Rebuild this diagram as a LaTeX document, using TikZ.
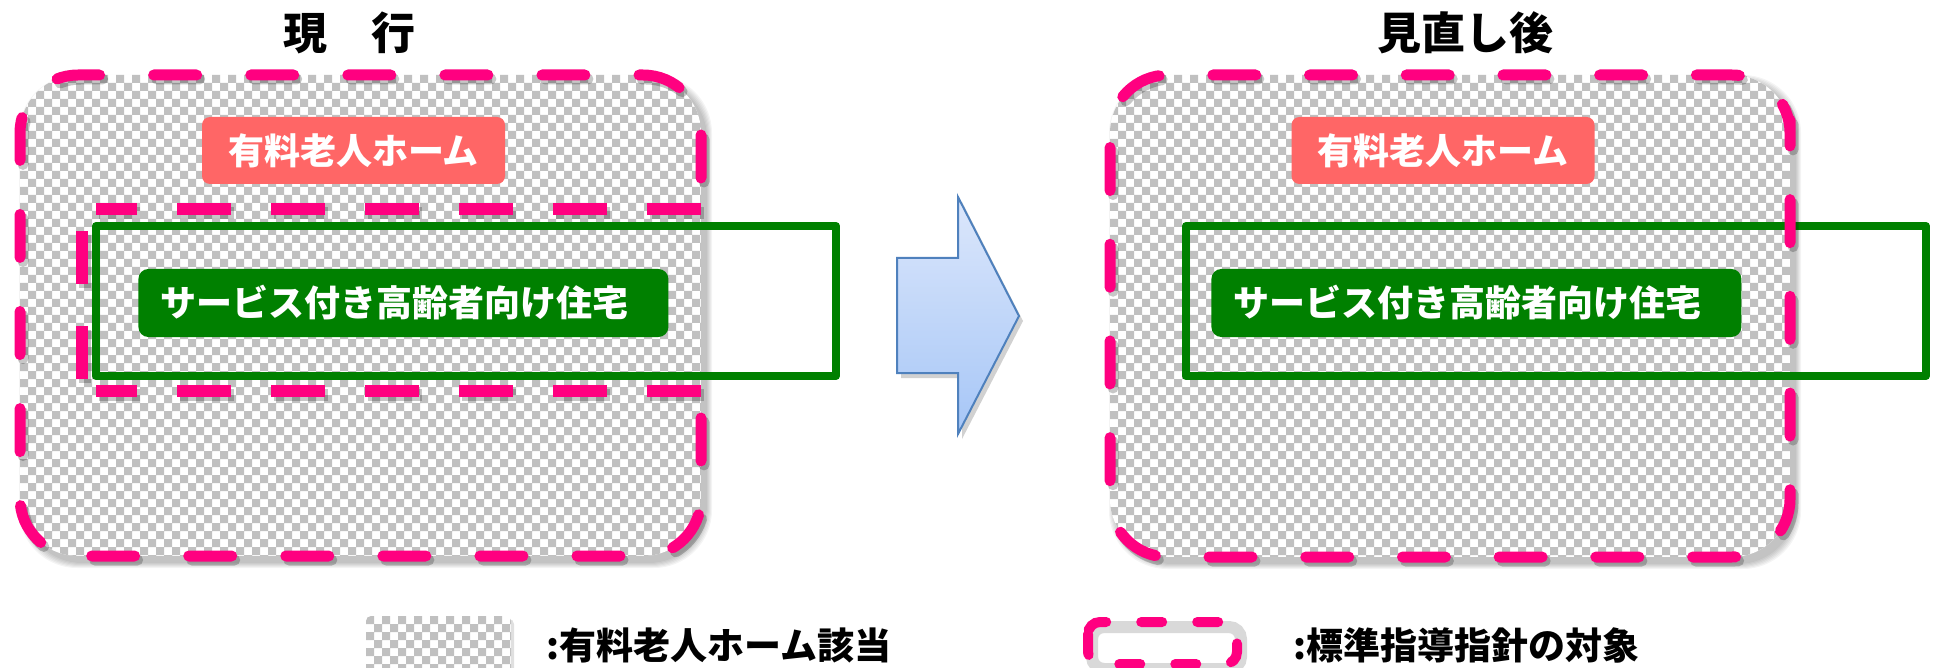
\documentclass[tikz,border=0pt]{standalone}
\usepackage{fontspec}
\newfontfamily\jp{Noto Sans CJK JP}
\definecolor{dashpink}{HTML}{FF0080}
\definecolor{salmon}{HTML}{FF6666}
\definecolor{boxgreen}{HTML}{008000}
\definecolor{checkgray}{HTML}{C0C0C0}
\definecolor{arrowtop}{HTML}{DCE7FB}
\definecolor{arrowbot}{HTML}{A6C6F7}
\definecolor{arrowline}{HTML}{4F81BD}
\newcommand\checkerfill[4]{%
  \pgfmathtruncatemacro\chkrows{ceil((#4-#2)/8)}%
  \pgfmathtruncatemacro\chkcols{ceil((#3-#1)/16)}%
  \fill[white] (#1,#2) rectangle (#3,#4);
  \fill[checkgray] \foreach \ri in {0,...,\chkrows}{ \foreach \ci in {0,...,\chkcols}{ ({#1+16*\ci+8*mod(\ri,2)},{#2+8*\ri}) rectangle ++(8,8) } };
}
\tikzset{
  pinkline/.style={draw=dashpink, line width=5.5pt, line cap=round},
  pinkshadow/.style={draw=black, opacity=0.22, line width=5.5pt, line cap=round},
  innerdash/.style={draw=dashpink, line width=6pt},
  innershadow/.style={draw=black, opacity=0.22, line width=6pt},
  greenframe/.style={draw=boxgreen, line width=4pt, line join=round},
  boxtext/.style={text=white, font=\jp\bfseries\fontsize{18pt}{22pt}\selectfont},
  salmonbox/.style={boxtext, fill=salmon, rounded corners=4pt, minimum width=151.5pt, minimum height=33.5pt, inner sep=0pt},
  greenbox/.style={boxtext, fill=boxgreen, rounded corners=5pt, minimum height=34pt, inner xsep=11pt, inner ysep=0pt, text width=243pt, align=left, anchor=west},
  titletext/.style={font=\jp\bfseries\fontsize{22pt}{26pt}\selectfont, inner sep=0pt},
  legendtext/.style={font=\jp\bfseries\fontsize{18.5pt}{22pt}\selectfont, inner sep=0pt, anchor=west},
  boxshadow/.style={fill=black, opacity=0.045, rounded corners=29pt},
}
\begin{document}
\begin{tikzpicture}[x=0.5pt,y=-0.5pt]
\useasboundingbox (0,0) rectangle (1933,668);

% titles
\node[titletext] (tL) at (349,33) {現　行};
\node[titletext] (tR) at (1465,33) {見直し後};

% ===== left diagram =====
\foreach \k in {1,...,6} \fill[boxshadow] ({25-\k},{81-\k}) rectangle ({706+\k},{562+\k});
\begin{scope}
  \clip[rounded corners=29pt] (20,75) rectangle (701,556);
  \checkerfill{20}{75}{701}{556}
\end{scope}
\node[salmonbox] (hL) at (353.5,150.5) {有料老人ホーム};
% inner dashed frame (no right side)
\begin{scope}[shift={(3,4)}]
  \draw[innershadow, dash pattern=on 27pt off 20pt] (701,209) -- (96,209);
  \draw[innershadow, dash pattern=on 27pt off 20pt] (701,391) -- (96,391);
  \draw[innershadow, dash pattern=on 26.5pt off 21pt] (82,231) -- (82,391);
\end{scope}
\draw[innerdash, dash pattern=on 27pt off 20pt] (701,209) -- (96,209);
\draw[innerdash, dash pattern=on 27pt off 20pt] (701,391) -- (96,391);
\draw[innerdash, dash pattern=on 26.5pt off 21pt] (82,231) -- (82,391);
% green frame
\draw[greenframe] (96,226) rectangle (836,376);
\node[greenbox] (sL) at (138,303) {サービス付き高齢者向け住宅};
% outer dashed border
\draw[pinkshadow, rounded corners=29pt, dash pattern=on 21.5pt off 27.035pt, shift={(3,4)}]
  (701,178) -- (701,75) -- (20,75) -- (20,556) -- (701,556) -- (701,418);
\draw[pinkline, rounded corners=29pt, dash pattern=on 21.5pt off 27.035pt]
  (701,178) -- (701,75) -- (20,75) -- (20,556) -- (701,556) -- (701,418);

% ===== arrow =====
\fill[black, opacity=0.18] (901,263) -- (962,263) -- (962,202) -- (1023,321) -- (962,439) -- (962,378) -- (901,378) -- cycle;
\path[draw=arrowline, line width=1pt, top color=arrowtop, bottom color=arrowbot]
  (897,258) -- (958,258) -- (958,197) -- (1019,316) -- (958,434) -- (958,373) -- (897,373) -- cycle;

% ===== right diagram =====
\foreach \k in {1,...,6} \fill[boxshadow] ({1115-\k},{81-\k}) rectangle ({1795+\k},{563+\k});
\begin{scope}
  \clip[rounded corners=29pt] (1110,75) rectangle (1790,557);
  \checkerfill{1110}{75}{1790}{557}
\end{scope}
\node[salmonbox] (hR) at (1443,150.5) {有料老人ホーム};
\draw[greenframe] (1186,226) rectangle (1926,376);
\node[greenbox] (sR) at (1211,303) {サービス付き高齢者向け住宅};
\draw[pinkshadow, rounded corners=29pt, dash pattern=on 21.5pt off 26.857pt, shift={(3,4)}]
  (1790,178) -- (1790,75) -- (1110,75) -- (1110,557) -- (1790,557) -- cycle;
\draw[pinkline, rounded corners=29pt, dash pattern=on 21.5pt off 26.857pt]
  (1790,178) -- (1790,75) -- (1110,75) -- (1110,557) -- (1790,557) -- cycle;

% ===== legend =====
\fill[black, opacity=0.12, rounded corners=2.5pt] (369,619) rectangle (514,693);
\begin{scope}
  \clip[rounded corners=2.5pt] (366,616) rectangle (511,690);
  \checkerfill{366}{616}{511}{690}
\end{scope}
\node[legendtext] (lg1) at (546,645) {:有料老人ホーム該当};
\draw[draw=black, opacity=0.15, line width=6pt, rounded corners=6pt] (1092,627) rectangle (1241,669);
\draw[draw=dashpink, line width=5pt, line cap=round, rounded corners=6pt, dash pattern=on 10.5pt off 17.5pt]
  (1088,622) rectangle (1237,664);
\node[legendtext] (lg2) at (1293,645) {:標準指導指針の対象};
\end{tikzpicture}
\end{document}
